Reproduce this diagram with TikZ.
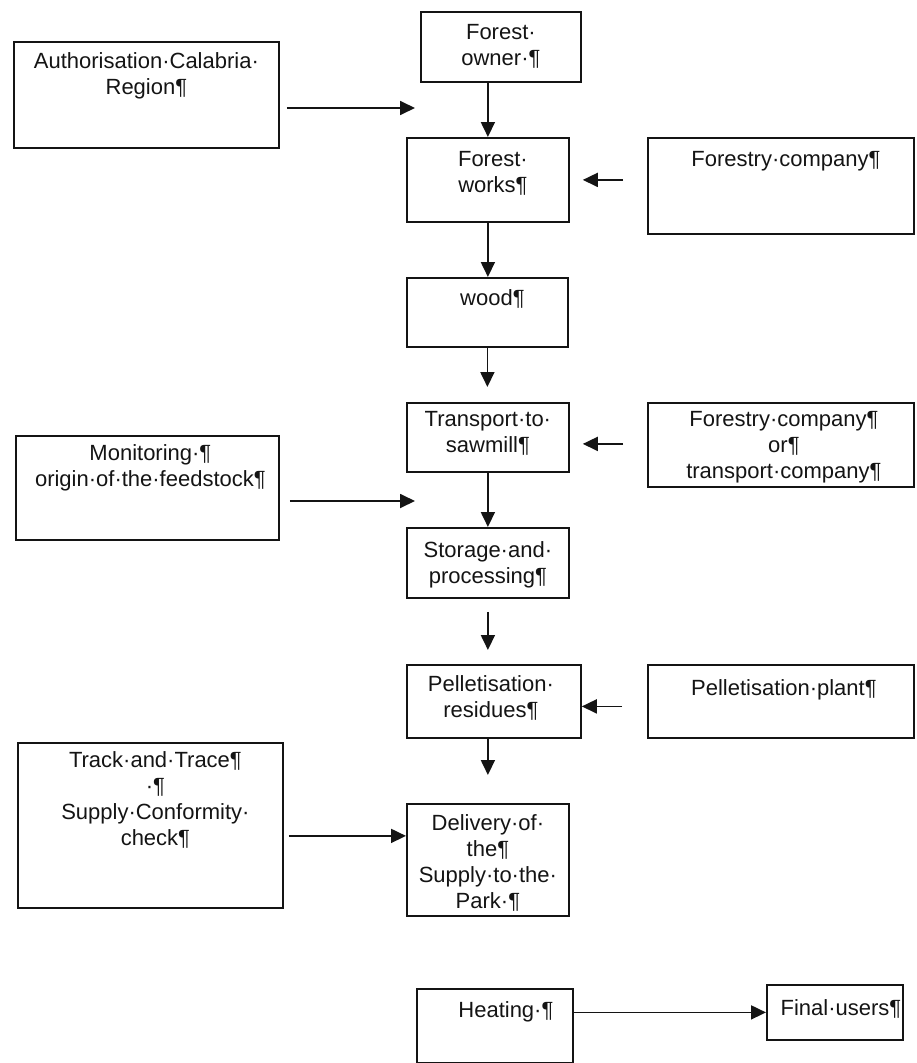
\documentclass[tikz,border=0pt]{standalone}
\usepackage{fontspec}
\setmainfont{Liberation Sans}
\usetikzlibrary{arrows.meta}
\definecolor{inkc}{RGB}{20,20,20}
\tikzset{
  box/.style={draw=inkc, line width=1.8pt, rectangle, inner sep=0pt, anchor=north west},
  txt/.style={anchor=north, inner sep=0pt, align=center, text=inkc,
    font=\fontsize{22}{26}\selectfont},
  arr/.style={draw=inkc, line width=1.8pt, -{Triangle[length=15pt,width=14pt]}}
}
\begin{document}
\begin{tikzpicture}[x=1pt,y=-1pt]
\useasboundingbox (0,0) rectangle (916,1063);
% boxes
\node[box, minimum width=265pt, minimum height=106pt] (auth) at (13,41) {};
\node[box, minimum width=160pt, minimum height=70pt] (owner) at (420,11) {};
\node[box, minimum width=162pt, minimum height=84pt] (works) at (406,137) {};
\node[box, minimum width=266pt, minimum height=96pt] (fcomp1) at (647,137) {};
\node[box, minimum width=161pt, minimum height=69pt] (wood) at (406,277) {};
\node[box, minimum width=162pt, minimum height=69pt] (transport) at (406,402) {};
\node[box, minimum width=266pt, minimum height=84pt] (fcomp2) at (647,402) {};
\node[box, minimum width=263pt, minimum height=104pt] (monitor) at (15,435) {};
\node[box, minimum width=162pt, minimum height=70pt] (storage) at (406,527) {};
\node[box, minimum width=174pt, minimum height=73pt] (pellet) at (406,664) {};
\node[box, minimum width=266pt, minimum height=73pt] (plant) at (647,664) {};
\node[box, minimum width=265pt, minimum height=165pt] (track) at (17,742) {};
\node[box, minimum width=162pt, minimum height=112pt] (delivery) at (406,803) {};
\node[box, minimum width=156pt, minimum height=74pt] (heating) at (416,988) {};
\node[box, minimum width=136pt, minimum height=55pt] (final) at (766,984) {};
% texts
\node[txt] (authT) at ([yshift=-11pt]auth.north) {Authorisation·Calabria·\\Region¶};
\node[txt] (ownerT) at ([yshift=-13pt]owner.north) {Forest·\\owner·¶};
\node[txt] (worksT) at ([xshift=5pt,yshift=-14pt]works.north) {Forest·\\works¶};
\node[txt] (fcomp1T) at ([xshift=5pt,yshift=-14pt]fcomp1.north) {Forestry·company¶};
\node[txt] (woodT) at ([xshift=5pt,yshift=-12pt]wood.north) {wood¶};
\node[txt] (transportT) at ([yshift=-9pt]transport.north) {Transport·to·\\sawmill¶};
\node[txt] (fcomp2T) at ([xshift=3pt,yshift=-9pt]fcomp2.north) {Forestry·company¶\\or¶\\transport·company¶};
\node[txt] (monitorT) at ([xshift=3pt,yshift=-9pt]monitor.north) {Monitoring·¶\\origin·of·the·feedstock¶};
\node[txt] (storageT) at ([yshift=-14pt]storage.north) {Storage·and·\\processing¶};
\node[txt] (pelletT) at ([xshift=-3pt,yshift=-11pt]pellet.north) {Pelletisation·\\residues¶};
\node[txt] (plantT) at ([xshift=3pt,yshift=-15pt]plant.north) {Pelletisation·plant¶};
\node[txt] (trackT) at ([xshift=5pt,yshift=-9pt]track.north) {Track·and·Trace¶\\·¶\\Supply·Conformity·\\check¶};
\node[txt] (deliveryT) at ([yshift=-11pt]delivery.north) {Delivery·of·\\the¶\\Supply·to·the·\\Park·¶};
\node[txt] (heatingT) at ([xshift=11pt,yshift=-13pt]heating.north) {Heating·¶};
\node[txt] (finalT) at ([xshift=6pt,yshift=-15pt]final.north) {Final·users¶};
% free arrow ends
\coordinate (authArr) at (415,108);
\coordinate (monArr) at (415,501);
% connectors
\draw[arr] (owner.south -| works.north) -- (works.north);
\draw[arr] (works.south) -- (works.south |- wood.north);
\draw[arr, shorten >=15pt] (wood.south) -- (wood.south |- transport.north);
\draw[arr] (transport.south) -- (transport.south |- storage.north);
\draw[arr, shorten <=13pt, shorten >=14pt] (storage.south) -- (storage.south |- pellet.north);
\draw[arr, shorten >=28pt] (pellet.south -| delivery.north) -- (delivery.north);
\draw[arr, shorten <=7pt] (auth.east |- authArr) -- (authArr);
\draw[arr, shorten <=10pt] (monitor.east |- monArr) -- (monArr);
\draw[arr, shorten <=24pt, shorten >=13pt] (fcomp1.west |- works.east) -- (works.east);
\draw[arr, shorten <=24pt, shorten >=13pt] ([yshift=1pt]fcomp2.west) -- ([yshift=1pt]fcomp2.west -| transport.east);
\draw[arr, shorten <=25pt] ([yshift=-5pt]plant.west) -- ([yshift=-5pt]pellet.east);
\draw[arr, shorten <=5pt] ([yshift=-10.5pt]track.east) -- ([yshift=-10.5pt]track.east -| delivery.west);
\draw[arr] (heating.east |- final.west) -- (final.west);
\end{tikzpicture}
\end{document}
